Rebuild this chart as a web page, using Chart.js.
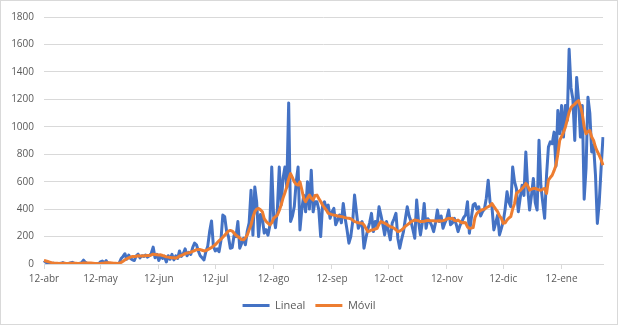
<!DOCTYPE html>
<html>
<head>
<meta charset="utf-8">
<script src="https://cdn.jsdelivr.net/npm/chart.js"></script>
<style>
  html, body { margin: 0; padding: 0; background: #fff; }
  #wrap { width: 618px; height: 325px; box-sizing: border-box; border: 1px solid #d9d9d9; }
  canvas { display: block; }
</style>
</head>
<body>
<div id="wrap"><canvas id="chart" width="616" height="323"></canvas></div>
<script>
// daily values, starting 12-abr
const lineal = [
  25, 12, 8, 5, 3, 6, 2, 4, 3, 5,
  10, 3, 2, 4, 8, 12, 6, 3, 2, 5,
  10, 28, 12, 4, 2, 1, 3, 2, 1, 2,
  15, 22, 8, 24, 5, 3, 2, 4, 1, 3,
  8, 40, 55, 75, 35, 65, 40, 30, 25, 60,
  72, 45, 60, 55, 65, 50, 60, 78, 123, 45,
  70, 25, 60, 40, 55, 15, 60, 35, 70, 30,
  60, 40, 95, 55, 75, 110, 60, 85, 70, 120,
  152, 140, 95, 60, 45, 30, 90, 130, 236, 314,
  130, 95, 110, 90, 170, 357, 345, 240, 200, 115,
  120, 210, 200, 309, 115, 150, 188, 140, 240, 300,
  538, 210, 562, 450, 200, 360, 333, 225, 250, 210,
  280, 707, 350, 265, 400, 707, 430, 623, 707, 560,
  1174, 309, 350, 420, 600, 707, 248, 400, 502, 380,
  600, 400, 683, 380, 454, 454, 396, 200, 430, 454,
  400, 430, 333, 380, 405, 286, 320, 357, 300, 441,
  333, 250, 152, 200, 309, 502, 380, 260, 290, 309,
  115, 188, 250, 300, 369, 236, 309, 280, 417, 357,
  290, 212, 309, 240, 176, 298, 330, 369, 188, 115,
  180, 236, 330, 417, 350, 309, 250, 188, 466, 309,
  212, 300, 441, 260, 330, 309, 280, 236, 300, 393,
  309, 350, 260, 300, 333, 393, 286, 300, 333, 290,
  236, 280, 309, 340, 357, 454, 224, 330, 430, 441,
  400, 417, 350, 381, 400, 480, 611, 450, 417, 248,
  300, 357, 212, 260, 309, 400, 526, 450, 417, 707,
  600, 550, 381, 480, 574, 500, 816, 550, 393, 500,
  623, 447, 393, 901, 570, 447, 333, 645, 852, 890,
  877, 961, 712, 1118, 950, 1155, 925, 1155, 1046, 1565,
  1285, 1200, 900, 1360, 1200, 925, 1155, 472, 700, 1215,
  1100, 816, 864, 650, 296, 450, 700, 925
];

const movil = [
  25, 22, 18, 14, 10, 7, 5, 5, 4, 4,
  5, 5, 4, 4, 5, 6, 6, 5, 4, 4,
  5, 7, 8, 8, 7, 7, 6, 4, 3, 2,
  4, 6, 7, 9, 9, 9, 8, 6, 5, 3,
  5, 12, 20, 30, 38, 45, 50, 55, 55, 57,
  60, 58, 58, 60, 60, 62, 62, 66, 72, 70,
  68, 66, 67, 62, 58, 52, 50, 48, 46, 45,
  42, 48, 58, 62, 68, 75, 80, 82, 86, 92,
  98, 104, 106, 105, 100, 95, 98, 105, 112, 120,
  130, 140, 155, 170, 180, 195, 210, 225, 240, 245,
  240, 225, 210, 200, 190, 178, 176, 190, 212, 250,
  285, 340, 381, 400, 405, 395, 381, 330, 310, 297,
  285, 300, 333, 345, 357, 390, 430, 480, 520, 562,
  620, 659, 630, 599, 580, 575, 599, 540, 478, 454,
  480, 502, 480, 466, 500, 502, 478, 455, 430, 410,
  393, 369, 365, 360, 357, 355, 350, 348, 345, 342,
  338, 335, 333, 330, 320, 309, 305, 300, 298, 297,
  285, 260, 236, 240, 248, 250, 255, 260, 290, 309,
  303, 297, 290, 280, 273, 268, 260, 250, 236, 240,
  248, 260, 275, 285, 295, 309, 315, 321, 318, 315,
  309, 310, 312, 315, 318, 316, 315, 315, 314, 314,
  315, 314, 316, 320, 328, 333, 330, 333, 318, 314,
  320, 310, 300, 302, 300, 270, 260, 262, 265, 340,
  369, 381, 390, 396, 400, 410, 417, 425, 441, 420,
  400, 381, 350, 333, 296, 300, 321, 335, 345, 400,
  440, 514, 526, 535, 550, 565, 587, 570, 538, 545,
  550, 550, 545, 540, 538, 545, 550, 514, 611, 630,
  647, 680, 719, 800, 901, 930, 960, 997, 1050, 1106,
  1140, 1155, 1165, 1180, 1190, 1150, 1094, 1000, 949, 965,
  973, 925, 900, 852, 820, 792, 760, 719
];

const meses = ["ene", "feb", "mar", "abr", "may", "jun", "jul", "ago", "sep", "oct", "nov", "dic"];
const startDate = new Date(2020, 3, 12);

// one label per day, e.g. "12-abr"
const fechas = lineal.map((v, i) => {
    const d = new Date(startDate.getFullYear(), startDate.getMonth(), startDate.getDate() + i);
    return d.getDate() + "-" + meses[d.getMonth()];
});

const gridColor = "#d9d9d9";
const textColor = "#595959";
const fontFamily = "'Open Sans', sans-serif";

new Chart(document.getElementById("chart"), {
    type: "line",
    data: {
        labels: fechas,
        datasets: [
            {
                label: "Lineal",
                data: lineal,
                borderColor: "#4472c4",
                backgroundColor: "#4472c4",
                borderWidth: 3,
                pointRadius: 0,
                tension: 0,
                borderJoinStyle: "round",
                order: 1,
            },
            {
                label: "Móvil",
                data: movil,
                borderColor: "#ed7d31",
                backgroundColor: "#ed7d31",
                borderWidth: 3,
                pointRadius: 0,
                tension: 0,
                borderJoinStyle: "round",
                order: 0,
            },
        ],
    },
    options: {
        responsive: false,
        animation: false,
        layout: { padding: { top: 11, right: 0, left: 0, bottom: 3 } },
        scales: {
            x: {
                ticks: {
                    autoSkip: false,
                    maxRotation: 0,
                    padding: 4,
                    color: textColor,
                    font: { family: fontFamily, size: 10 },
                    callback: function (value) {
                        const lab = this.getLabelForValue(value);
                        return lab.startsWith("12-") ? lab : null;
                    },
                },
                grid: {
                    drawOnChartArea: false,
                    drawTicks: true,
                    tickLength: 5,
                    color: gridColor,
                },
                border: { display: true, color: gridColor },
                afterFit: function (scale) {
                    scale.height += 1;
                },
            },
            y: {
                min: 0,
                max: 1800,
                ticks: {
                    stepSize: 200,
                    padding: 10,
                    color: textColor,
                    font: { family: fontFamily, size: 10 },
                    callback: (value) => String(value),
                },
                grid: { color: gridColor, drawTicks: false },
                border: { display: false },
                afterFit: function (scale) {
                    scale.width = 43;
                },
            },
            // empty strip on the right, keeps the legend centred on the whole chart
            yRight: {
                position: "right",
                display: true,
                ticks: { display: false },
                grid: { display: false, drawTicks: false },
                border: { display: false },
                afterFit: function (scale) {
                    scale.width = 14;
                },
            },
        },
        plugins: {
            legend: {
                position: "bottom",
                labels: {
                    usePointStyle: true,
                    pointStyle: "line",
                    pointStyleWidth: 27,
                    padding: 10,
                    color: textColor,
                    font: { family: fontFamily, size: 11 },
                    sort: (a, b) => a.datasetIndex - b.datasetIndex,
                },
            },
            tooltip: { enabled: false },
        },
    },
});
</script>
</body>
</html>
